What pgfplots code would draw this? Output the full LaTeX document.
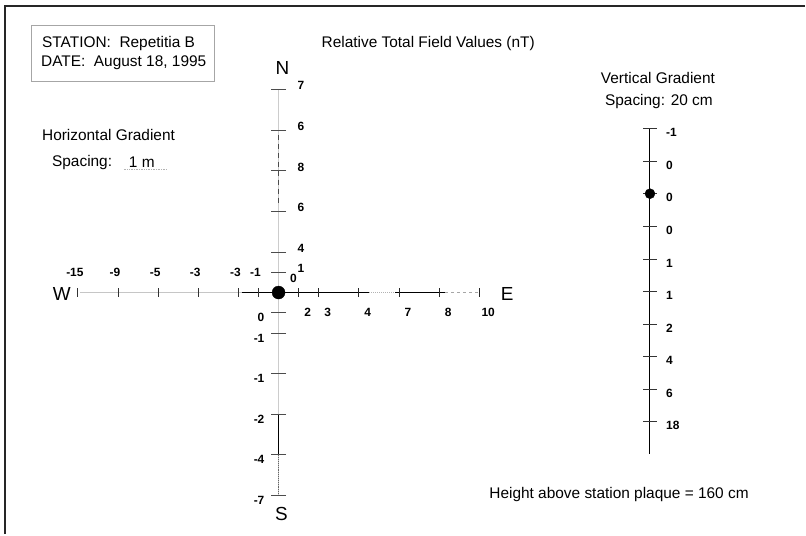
\documentclass[border=0pt]{standalone}
\usepackage{pgfplots}
\pgfplotsset{compat=1.18}
\usepackage{pgfplotstable}
\usepackage{fontspec}
\setmainfont{Liberation Sans}

\newcommand\txt{\fontsize{15.5}{18}\selectfont}
\newcommand\num{\fontsize{12}{14}\selectfont\bfseries}
\newcommand\cmp{\fontsize{19}{22}\selectfont}

% horizontal gradient: distance from centre (m), relative field (nT)
\pgfplotstableread{
d    v
-5   -15
-4   -9
-3   -5
-2   -3
-1   -3
-0.5 -1
}\westarm
\pgfplotstableread{
d    v
0.5  2
1    3
2    4
3    7
4    8
5    10
}\eastarm
\pgfplotstableread{
d    v
0.5  1
1    4
2    6
3    8
4    6
5    7
}\northarm
\pgfplotstableread{
d    v
0.5  0
1    -1
2    -1
3    -2
4    -4
5    -7
}\southarm
% vertical gradient: height above plaque (cm), relative field (nT)
\pgfplotstableread{
h    v
200  -1
180  0
160  0
140  0
120  1
100  1
80   2
60   4
40   6
20   18
}\vertgrad

\begin{document}
\begin{tikzpicture}
\begin{axis}[
    hide axis, scale only axis,
    width=806bp, height=535bp,
    xmin=0, xmax=806, ymin=0, ymax=535,
    y dir=reverse, clip=false,
    lbl/.style={draw=none, mark=none, nodes near coords, point meta=explicit symbolic},
]
% keep the whole page as bounding box
\path (axis cs:0,0) rectangle (axis cs:806,535);
% page frame (top and left only)
\addplot[black!85, line width=2.6bp] coordinates {(5,535)(5,6)(806,6)};

% station box
\draw[gray!70, line width=0.8bp] (axis cs:31,25) rectangle (axis cs:215,82);
\node[anchor=west, font=\txt, inner sep=0] at (axis cs:42,44) {STATION:\ \ Repetitia B};
\node[anchor=west, font=\txt, inner sep=0] at (axis cs:41,63) {DATE:\ \ August 18, 1995};
\node[anchor=west, font=\txt, inner sep=0] at (axis cs:322,44) {Relative Total Field Values (nT)};
\node[anchor=west, font=\txt, inner sep=0] at (axis cs:42,135) {Horizontal Gradient};
\node[anchor=west, font=\txt, inner sep=0] at (axis cs:52,163) {Spacing:};
\node[anchor=west, font=\txt, inner sep=0] at (axis cs:129,162) {1 m};
\addplot[gray!60, line width=0.7bp, densely dotted] coordinates {(124,170)(168,170)};
\node[font=\txt, inner sep=0] at (axis cs:659,78) {Vertical Gradient};
\node[font=\txt, inner sep=0] at (axis cs:660,102) {Spacing: 20 cm};
\node[anchor=west, font=\txt, inner sep=0] at (axis cs:490,495) {Height above station plaque = 160 cm};

% compass letters
\node[font=\cmp] at (axis cs:283,68) {N};
\node[font=\cmp] at (axis cs:282,515) {S};
\node[font=\cmp] at (axis cs:62,294) {W};
\node[font=\cmp] at (axis cs:508,294) {E};

% arms (scan shading kept roughly)
\addplot[gray!45, line width=1bp] coordinates {(80,293)(242,293)};
\addplot[black, line width=1bp] coordinates {(242,293)(370,293)};
\addplot[gray!60, line width=1bp, densely dotted] coordinates {(370,293)(396,293)};
\addplot[black, line width=1bp] coordinates {(396,293)(446,293)};
\addplot[gray!70, line width=1bp, dashed] coordinates {(446,293)(481,293)};
\addplot[gray!40, line width=1.2bp] coordinates {(279,90)(279,293)};
\addplot[black!70, line width=0.9bp, dash pattern=on 5bp off 4bp] coordinates {(279,135)(279,205)};
\addplot[gray!40, line width=1.2bp] coordinates {(279,293)(279,496)};
\addplot[black, line width=1bp] coordinates {(279,416)(279,456)};
\addplot[black!60, line width=0.9bp, densely dotted] coordinates {(279,456)(279,496)};

% ticks
\addplot[black!80, only marks, mark=|, mark size=4.5bp, mark options={line width=0.9bp}]
    table[x expr=279+40.2*\thisrow{d}, y expr=293] \westarm;
\addplot[black!85, only marks, mark=|, mark size=4.5bp, mark options={line width=0.9bp}]
    table[x expr=279+40.2*\thisrow{d}, y expr=293] \eastarm;
\addplot[black!70, only marks, mark=-, mark size=7.5bp, mark options={line width=0.9bp}]
    table[x expr=279, y expr=293-40.6*\thisrow{d}] \northarm;
\addplot[black!70, only marks, mark=-, mark size=7.5bp, mark options={line width=0.9bp}]
    table[x expr=279, y expr=293+40.6*\thisrow{d}] \southarm;

% values
\addplot[lbl, nodes near coords style={anchor=center, inner sep=0, font=\num, xshift=-3bp, yshift=20bp}]
    table[x expr=279+40.2*\thisrow{d}, y expr=293, meta=v] \westarm;
\addplot[lbl, nodes near coords style={anchor=center, inner sep=0, font=\num, xshift=9bp, yshift=-20bp}]
    table[x expr=279+40.2*\thisrow{d}, y expr=293, meta=v] \eastarm;
\addplot[lbl, nodes near coords style={anchor=west, inner sep=0, font=\num, xshift=19bp, yshift=4bp}]
    table[x expr=279, y expr=293-40.6*\thisrow{d}, meta=v] \northarm;
\addplot[lbl, nodes near coords style={anchor=east, inner sep=0, font=\num, xshift=-14bp, yshift=-5bp}]
    table[x expr=279, y expr=293+40.6*\thisrow{d}, meta=v] \southarm;
\node[font=\num, inner sep=0] at (axis cs:294,279) {0};

% station centre
\addplot[only marks, mark=*, mark size=6.5bp, black] coordinates {(279,293)};

% vertical gradient column
\addplot[black, line width=1bp] coordinates {(651,129)(651,455)};
\addplot[black!80, only marks, mark=-, mark size=7bp, mark options={line width=0.9bp}]
    table[x expr=651, y expr=455-1.63*\thisrow{h}] \vertgrad;
\addplot[lbl, nodes near coords style={anchor=west, inner sep=0, font=\num, xshift=16bp, yshift=-4bp}]
    table[x expr=651, y expr=455-1.63*\thisrow{h}, meta=v] \vertgrad;
\addplot[only marks, mark=*, mark size=5bp, black] coordinates {(651,194)};
\end{axis}
\end{tikzpicture}
\end{document}
